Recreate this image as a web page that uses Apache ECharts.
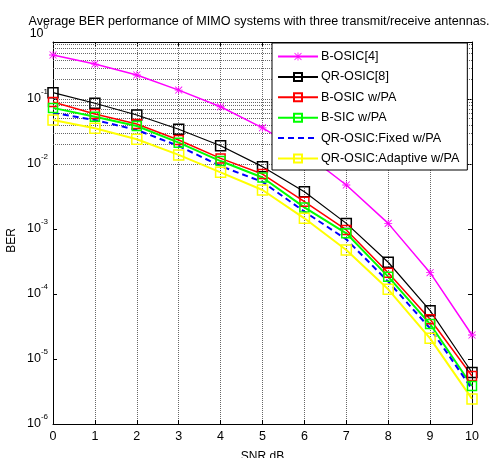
<!DOCTYPE html>
<html><head><meta charset="utf-8">
<script src="https://cdn.jsdelivr.net/npm/echarts@6/dist/echarts.min.js"></script>
<style>html,body{margin:0;padding:0;background:#fff}#c{width:494px;height:458px}</style>
</head><body><div id="c"></div>
<script>
const snr = [0,1,2,3,4,5,6,7,8,9,10];
const bosic4 = [0.475,0.345,0.234,0.137,0.076,0.036,0.0148,4.75e-3,1.22e-3,2.13e-4,2.34e-5];
const qrosic8 = [0.125,0.086,0.0567,0.0342,0.0191,0.0091,3.75e-3,1.22e-3,3.08e-4,5.54e-5,6.2e-6];
const bosicPA = [0.09,0.0588,0.0412,0.0234,0.0122,7.0e-3,2.63e-3,9.66e-4,2.13e-4,4.08e-5,5.47e-6];
const bsicPA = [0.073,0.0534,0.0384,0.0213,0.0111,6.2e-3,2.15e-3,8.59e-4,1.85e-4,3.45e-5,3.84e-6];
const qrFixed = [0.061,0.0475,0.0334,0.0189,0.0093,5.3e-3,1.85e-3,6.94e-4,1.55e-4,2.96e-5,3.45e-6];
const qrAdaptive = [0.0475,0.0354,0.024,0.0138,0.00745,3.98e-3,1.46e-3,4.75e-4,1.18e-4,2.08e-5,2.43e-6];
const names = ['B-OSIC[4]','QR-OSIC[8]','B-OSIC w/PA','B-SIC w/PA','QR-OSIC:Fixed w/PA','QR-OSIC:Adaptive w/PA'];
const titleText = 'Average BER performance of MIMO systems with three transmit/receive antennas.';

// horizontal grid lines (decades and 2..9 minors) within the visible range
const gridVals = [];
for (let e = -6; e <= 0; e++) {
  for (let m = 1; m <= 9; m++) {
    const v = m * Math.pow(10, e);
    if (v > 1.01e-6 && v < 0.75) gridVals.push(v);
  }
}

const FONT = 'Liberation Sans';
const GRIDSTYLE = {color: '#666', type: 'dotted', width: 1};
const star = 'path://M4.5 0H5.5V10H4.5Z M0 4.5H10V5.5H0Z M1 0.3L9.7 9L9 9.7L0.3 1Z M9 0.3L9.7 1L1 9.7L0.3 9Z';
const pairs = a => snr.map((x,i)=>[x,a[i]]);

function mk(name, data, color, opts) {
  return Object.assign({
    name, type: 'line', data: pairs(data), xAxisIndex: 0, yAxisIndex: 0, z: 3,
    color: color,
    symbol: 'rect', symbolSize: 9, showSymbol: true,
    lineStyle: {color, width: 1.5},
    itemStyle: {color: 'rgba(0,0,0,0)', borderColor: color, borderWidth: 1.5},
    animation: false
  }, opts || {});
}

const series = [
  mk(names[0], bosic4, '#ff00ff', {symbol: star, symbolSize: 8,
     itemStyle: {color: '#ff00ff', borderWidth: 0},
     markLine: {silent: true, z: 1, symbol: 'none', label: {show: false}, animation: false,
       lineStyle: GRIDSTYLE, emphasis: {disabled: true},
       data: gridVals.map(v => ({yAxis: v}))}}),
  mk(names[1], qrosic8, '#000000', {symbolSize: 10, lineStyle: {color: '#000', width: 1.2}}),
  mk(names[2], bosicPA, '#ff0000'),
  mk(names[3], bsicPA, '#00ff00', {lineStyle: {color: '#00ff00', width: 2}}),
  mk(names[4], qrFixed, '#0000ff', {symbol: 'none', lineStyle: {color: '#0000ff', width: 2, type: [6,4]}}),
  mk(names[5], qrAdaptive, '#ffff00', {symbolSize: 10, lineStyle: {color: '#ffff00', width: 2}})
];

const chart = echarts.init(document.getElementById('c'));
chart.setOption({
  animation: false,
  backgroundColor: '#fff',
  textStyle: {fontFamily: FONT},
  title: {text: titleText, left: 254, top: 10, textAlign: 'center',
    textStyle: {fontFamily: FONT, fontSize: 12.6, fontWeight: 'normal', color: '#000'}},
  grid: [
    {left: 53, right: 22, top: 42, bottom: 34, show: false, containLabel: false, outerBoundsMode: 'none'},
    {left: 53, right: 22, top: 34, bottom: 34, show: false, containLabel: false, outerBoundsMode: 'none'}
  ],
  xAxis: [
    {type: 'value', gridIndex: 0, min: 0, max: 10, interval: 1, position: 'bottom',
     axisLine: {show: true, onZero: false, lineStyle: {color: '#000', width: 1}},
     axisTick: {show: true, inside: true, length: 4, lineStyle: {color: '#000'}},
     axisLabel: {color: '#000', fontSize: 12.5, margin: 6, fontFamily: FONT},
     splitLine: {show: true, lineStyle: GRIDSTYLE},
     name: 'SNR dB', nameLocation: 'middle', nameGap: 27,
     nameTextStyle: {color: '#000', fontSize: 12, fontFamily: FONT}},
    {type: 'value', gridIndex: 0, min: 0, max: 10, interval: 1, position: 'top',
     axisLine: {show: true, onZero: false, lineStyle: {color: '#000', width: 1}},
     axisTick: {show: true, inside: true, length: 4, lineStyle: {color: '#000'}},
     axisLabel: {show: false}, splitLine: {show: false}},
    {type: 'value', gridIndex: 1, min: 0, max: 10, show: false}
  ],
  yAxis: [
    {type: 'log', gridIndex: 0, min: 1e-6, max: 0.753, logBase: 10, position: 'left',
     axisLine: {show: true, onZero: false, lineStyle: {color: '#000', width: 1}},
     axisTick: {show: true, inside: true, length: 4, lineStyle: {color: '#000'}},
     axisLabel: {show: false}, splitLine: {show: false}},
    {type: 'log', gridIndex: 0, min: 1e-6, max: 0.753, logBase: 10, position: 'right',
     axisLine: {show: true, onZero: false, lineStyle: {color: '#000', width: 1}},
     axisTick: {show: true, inside: true, length: 4, lineStyle: {color: '#000'}},
     axisLabel: {show: false}, splitLine: {show: false}},
    {type: 'log', gridIndex: 1, min: 1e-6, max: 1, logBase: 10, position: 'left',
     axisLine: {show: false}, axisTick: {show: false}, splitLine: {show: false},
     axisLabel: {show: true, margin: 5, showMinLabel: true, showMaxLabel: true,
       formatter: v => '{b|10}{e|' + Math.round(Math.log10(v)) + '}',
       rich: {b: {fontSize: 12.5, color: '#000', fontFamily: FONT},
              e: {fontSize: 8, color: '#000', fontFamily: FONT, padding: [0,0,14,0]}}}}
  ],
  legend: {
    orient: 'vertical', left: 272, top: 43,
    data: names.map((n, i) => i === 4 ? {name: n, itemStyle: {opacity: 0}} : n),
    itemWidth: 40, itemHeight: 10, itemGap: 7.4,
    padding: [7, 8, 5, 5],
    backgroundColor: '#fff', borderColor: '#000', borderWidth: 1,
    textStyle: {color: '#000', fontSize: 12.6, fontFamily: FONT, padding: [0,0,0,-2]}
  },
  graphic: [
    {type: 'text', left: 6, top: 228, rotation: Math.PI/2,
     style: {text: 'BER', font: '12px ' + FONT, fill: '#000'}}
  ],
  series
});
</script></body></html>
